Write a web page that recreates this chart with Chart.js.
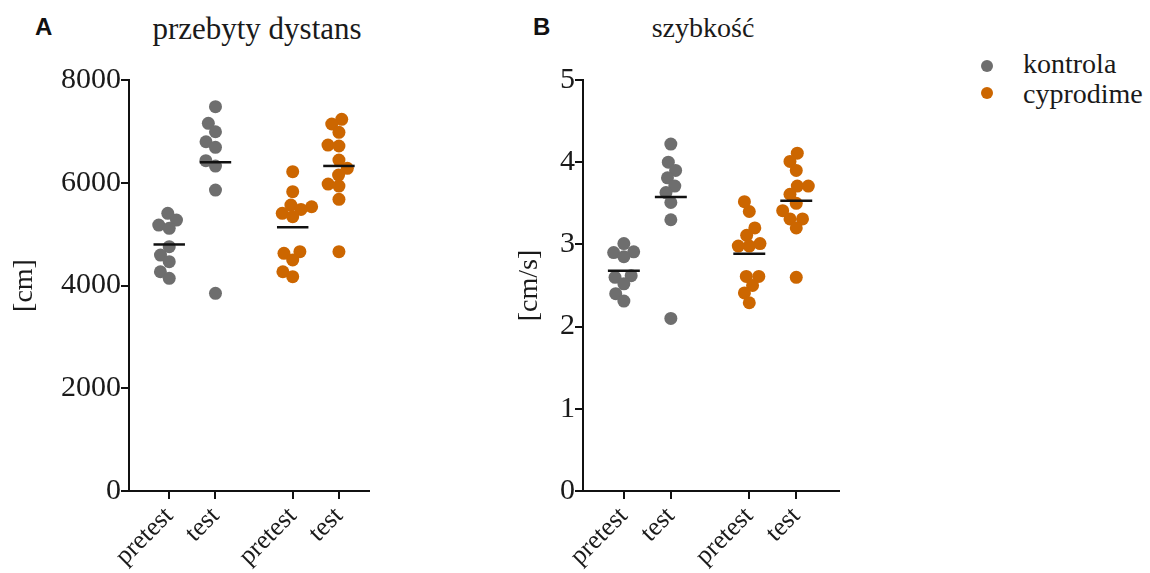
<!DOCTYPE html>
<html>
<head>
<meta charset="utf-8">
<script src="https://cdn.jsdelivr.net/npm/chart.js@4"></script>
<style>
  body { margin: 0; background: #fff; width: 1150px; height: 573px; position: relative; overflow: hidden; }
  canvas { position: absolute; top: 0; }
  .txt { position: absolute; font-family: "Liberation Serif", serif; font-size: 28px; line-height: 28px; color: #1a1a1a; white-space: nowrap; }
  .letter { position: absolute; font-family: "Liberation Sans", Arial, sans-serif; font-weight: bold; font-size: 24px; line-height: 24px; color: #111; }
  .ttl { width: 400px; text-align: center; }
  .dot { position: absolute; width: 12px; height: 12px; border-radius: 50%; }
</style>
</head>
<body>
<div class="letter" style="left:35px; top:15px;">A</div>
<div class="letter" style="left:533px; top:15px;">B</div>
<div class="txt ttl" style="left:57px; top:13px; font-size:31px; line-height:31px;">przebyty dystans</div>
<div class="txt ttl" style="left:503px; top:14px;">szybkość</div>

<canvas id="distChart" width="470" height="573" style="left:0px;"></canvas>
<canvas id="speedChart" width="470" height="573" style="left:470px;"></canvas>

<div class="dot" style="left:981px; top:60px; background:#6e6e6e;"></div>
<div class="txt" style="left:1023px; top:50px;">kontrola</div>
<div class="dot" style="left:981px; top:87px; background:#cc6600;"></div>
<div class="txt" style="left:1023px; top:80px;">cyprodime</div>

<script>
// categories
const groupLabels = ['pretest', 'test', 'pretest', 'test'];
const seriesNames = ['kontrola', 'cyprodime'];

// A: przebyty dystans [cm]
const distKontrolaPre = [5405, 5274, 5177, 5113, 4755, 4593, 4463, 4268, 4140];
const distKontrolaTest = [7480, 7156, 6993, 6798, 6689, 6429, 6325, 5858, 3848];
const distCyproPre = [6215, 5826, 5566, 5533, 5480, 5405, 5339, 4658, 4626, 4496, 4268, 4171];
const distCyproTest = [7234, 7143, 6981, 6734, 6715, 6442, 6280, 6150, 5975, 5936, 5677, 4658];
const distTicks = [0, 2000, 4000, 6000, 8000];

// B: szybkość [cm/s]
const speedKontrolaPre = [3.01, 2.91, 2.90, 2.85, 2.62, 2.60, 2.52, 2.40, 2.31];
const speedKontrolaTest = [4.22, 4.00, 3.90, 3.81, 3.71, 3.63, 3.51, 3.30, 2.10];
const speedCyproPre = [3.52, 3.40, 3.20, 3.11, 3.01, 2.98, 2.98, 2.61, 2.61, 2.50, 2.41, 2.29];
const speedCyproTest = [4.11, 4.01, 3.90, 3.71, 3.71, 3.61, 3.50, 3.41, 3.31, 3.31, 3.20, 2.60];
const speedTicks = [0, 1, 2, 3, 4, 5];

const GREY = '#6e6e6e';
const ORANGE = '#cc6600';
const groupPos = [1, 2, 3.67, 4.67];
const groupColor = [GREY, GREY, ORANGE, ORANGE];

const mean = arr => arr.reduce((a, b) => a + b, 0) / arr.length;

// spread the dots of a group sideways so they do not sit on top of each other
const swarm = {
  id: 'swarm',
  afterDatasetsUpdate(chart) {
    chart.data.datasets.forEach((ds, i) => {
      if (ds.type === 'line') return;
      const pts = chart.getDatasetMeta(i).data.slice().sort((a, b) => b.y - a.y);
      const placed = [];
      const d = 11;
      pts.forEach(el => {
        const cx = el.x;
        const bounds = [];
        placed.forEach(p => {
          const dy = Math.abs(p.y - el.y);
          if (dy < d) {
            const w = Math.sqrt(d * d - dy * dy);
            bounds.push([p.x - w - cx, p.x + w - cx]);
          }
        });
        const cands = [0];
        bounds.forEach(b => cands.push(b[0], b[1]));
        const ok = c => bounds.every(b => c <= b[0] + 1e-6 || c >= b[1] - 1e-6);
        const best = cands.filter(ok).sort((a, b) => Math.abs(a) - Math.abs(b))[0];
        el.x = cx + best;
        placed.push({ x: el.x, y: el.y });
      });
    });
  }
};

function makeChart(id, groups, yTicks, yTitle, padLeft, xMax, yWidth) {
  const datasets = [];
  groups.forEach((vals, g) => {
    datasets.push({
      type: 'scatter',
      label: seriesNames[g < 2 ? 0 : 1],
      data: vals.map(v => ({ x: groupPos[g], y: v })),
      backgroundColor: groupColor[g],
      borderWidth: 0,
      pointRadius: 6.5,
      order: 2
    });
    const m = mean(vals);
    datasets.push({
      type: 'line',
      data: [{ x: groupPos[g] - 0.34, y: m }, { x: groupPos[g] + 0.34, y: m }],
      borderColor: '#111',
      borderWidth: 2.5,
      pointRadius: 0,
      order: 1
    });
  });

  return new Chart(document.getElementById(id), {
    data: { datasets },
    plugins: [swarm],
    options: {
      responsive: false,
      animation: false,
      devicePixelRatio: 1,
      layout: { padding: { left: padLeft, top: 80, right: 470 - 129 - 240, bottom: 0 } },
      plugins: { legend: { display: false }, tooltip: { enabled: false } },
      scales: {
        x: {
          type: 'linear',
          min: 0.13,
          max: xMax,
          afterBuildTicks: s => { s.ticks = groupPos.map(v => ({ value: v })); },
          afterFit: s => { s.height = 82; },
          ticks: {
            callback: (v, i) => groupLabels[i],
            minRotation: 45,
            maxRotation: 45,
            color: '#1a1a1a',
            padding: 2,
            font: { family: 'Liberation Serif', size: 26 }
          },
          grid: { drawOnChartArea: false, tickLength: 8, color: '#111', lineWidth: 2 },
          border: { color: '#111', width: 2 }
        },
        y: {
          min: 0,
          max: yTicks[yTicks.length - 1],
          afterBuildTicks: s => { s.ticks = yTicks.map(v => ({ value: v })); },
          afterFit: s => { s.width = yWidth; },
          ticks: {
            callback: v => String(v),
            color: '#1a1a1a',
            padding: 0,
            font: { family: 'Liberation Serif', size: 30 }
          },
          title: {
            display: true,
            text: yTitle,
            color: '#1a1a1a',
            padding: 0,
            font: { family: 'Liberation Serif', size: 28 }
          },
          grid: { drawOnChartArea: false, tickLength: 8, color: '#111', lineWidth: 2 },
          border: { color: '#111', width: 2 }
        }
      }
    }
  });
}

makeChart('distChart',
  [distKontrolaPre, distKontrolaTest, distCyproPre, distCyproTest],
  distTicks, '[cm]', 8, 5.32, 121);

makeChart('speedChart',
  [speedKontrolaPre, speedKontrolaTest, speedCyproPre, speedCyproTest],
  speedTicks, '[cm/s]', 43, 5.58, 70);
</script>
</body>
</html>
